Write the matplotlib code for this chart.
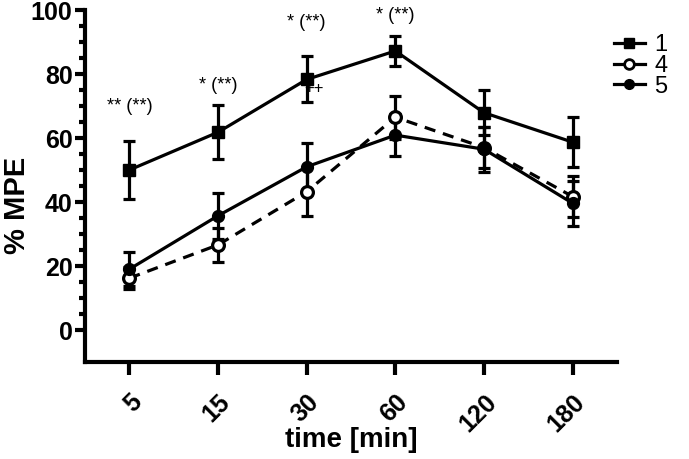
import matplotlib
matplotlib.use("Agg")
import matplotlib.pyplot as plt
from matplotlib.lines import Line2D
import numpy as np

times = ["5", "15", "30", "60", "120", "180"]
s1 = [50.0, 61.8, 78.3, 87.2, 67.9, 58.7]
s1_err = [9.0, 8.5, 7.2, 4.7, 7.0, 7.9]
s4 = [16.2, 26.6, 43.2, 66.5, 57.0, 41.7]
s4_err = [3.5, 5.4, 7.6, 6.7, 6.5, 6.3]
s5 = [19.0, 35.7, 51.0, 60.9, 56.5, 39.6]
s5_err = [5.3, 7.2, 7.5, 6.5, 7.0, 7.0]
labels = ["1", "4", "5"]
annots = ["** (**)", "* (**)", "* (**)", "* (**)"]
annot_y = [69.7, 76.5, 96.0, 98.4]

plt.rcParams['font.family'] = ['Liberation Sans', 'DejaVu Sans']

W, H = 689, 459
fig = plt.figure(figsize=(6.89, 4.59), dpi=100)
ax = fig.add_axes([85/W, 1-362/H, (617-85)/W, 352/H])
x = np.arange(len(times))

lw = 2.3
ekw = dict(elinewidth=2.3, capsize=4.5, capthick=2.3, ecolor='black')
ax.errorbar(x, s1, yerr=s1_err, color='black', lw=lw, marker='s', ms=8,
            mfc='black', mec='black', ls='-', **ekw)
ax.errorbar(x, s4, yerr=s4_err, color='black', lw=lw, marker='o', ms=8.5,
            mfc='white', mec='black', mew=2.3, ls=(0, (3.5, 2.5)), **ekw)
ax.errorbar(x, s5, yerr=s5_err, color='black', lw=lw, marker='o', ms=8.5,
            mfc='black', mec='black', ls='-', **ekw)

for i, (t, yv) in enumerate(zip(annots, annot_y)):
    ax.text(x[i], yv, t, ha='center', va='center', fontsize=13)
ax.text(x[2] + 0.08, 75.5, "++", ha='center', va='center', fontsize=12)

ax.set_xlim(-0.5, 5.5)
ax.set_ylim(-10, 100)
ax.set_yticks([0, 20, 40, 60, 80, 100])
ax.set_yticks(np.arange(0, 101, 5), minor=True)
ax.set_xticks(x)
ax.set_xticklabels(times, rotation=45, ha='right', rotation_mode='anchor',
                   fontsize=18, fontweight='bold')
for lab in ax.get_yticklabels():
    lab.set_fontsize(18)
    lab.set_fontweight('bold')

for s in ['top', 'right']:
    ax.spines[s].set_visible(False)
for s in ['left', 'bottom']:
    ax.spines[s].set_linewidth(3)
ax.tick_params(axis='y', which='major', length=7, width=3, pad=2)
ax.tick_params(axis='y', which='minor', length=4, width=3)
ax.tick_params(axis='x', which='major', length=9, width=3, pad=11)

fig.text(17/W, 1-205/H, "% MPE", rotation=90, ha='center', va='center',
         fontsize=21, fontweight='bold')
fig.text(351/W, 1-440/H, "time [min]", ha='center', va='center',
         fontsize=20, fontweight='bold')

handles = [
    Line2D([], [], color='black', lw=lw, marker='s', ms=6.5, mfc='black', mec='black'),
    Line2D([], [], color='black', lw=lw, marker='o', ms=7, mfc='white', mec='black', mew=2),
    Line2D([], [], color='black', lw=lw, marker='o', ms=7, mfc='black', mec='black'),
]
fig.legend(handles=handles, labels=labels, loc='upper left',
           bbox_to_anchor=(614/W, 1-34/H), frameon=False, fontsize=17,
           handlelength=1.3, handletextpad=0.4, labelspacing=-0.05, borderaxespad=0,
           borderpad=0)

fig.savefig("out.png", dpi=100)
